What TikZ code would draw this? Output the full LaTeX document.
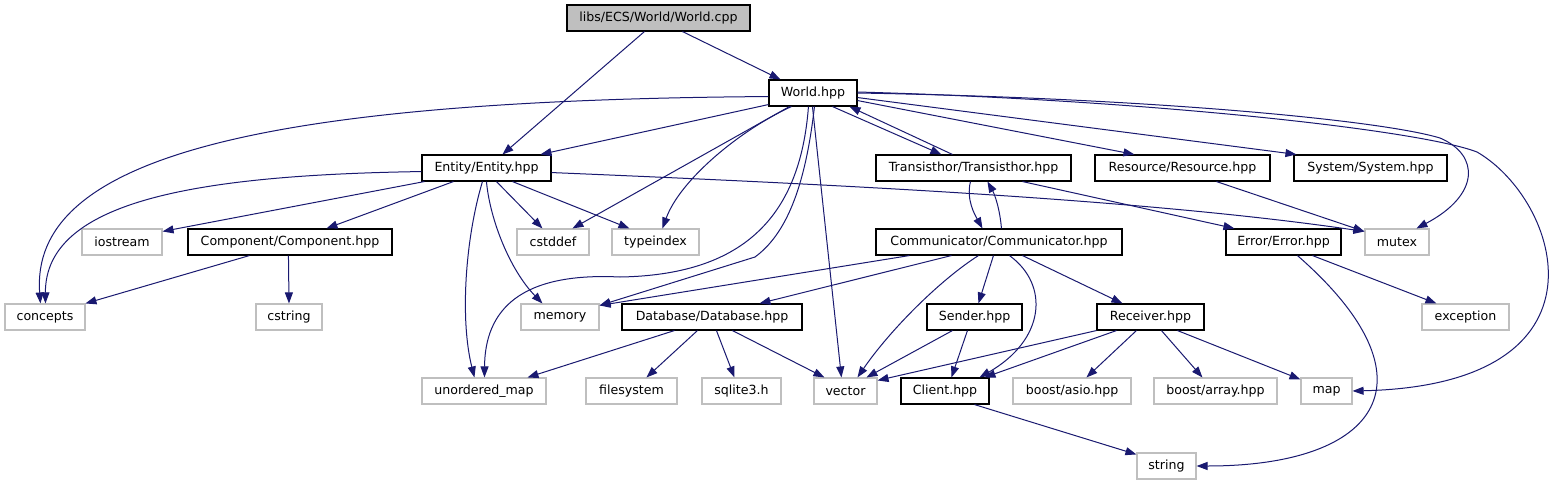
\documentclass[tikz,border=0pt]{standalone}
\usepackage{fontspec}
\setmainfont{DejaVu Sans}
\usetikzlibrary{arrows.meta}
\definecolor{edgec}{HTML}{191970}
\definecolor{sysc}{HTML}{BFBFBF}
\tikzset{
 base/.style={rectangle, minimum height=26pt, inner sep=0pt, line width=1.1pt, font=\fontsize{12.6}{14}\selectfont, text=black},
 filebox/.style={base, draw=black, fill=white},
 sysbox/.style={base, draw=sysc, fill=white},
 rootbox/.style={base, draw=black, fill=sysc},
 dep/.style={draw=edgec, line width=1pt, -{Triangle[length=11pt,width=8pt]}},
}
\begin{document}
\begin{tikzpicture}[x=1pt,y=-1pt]
\useasboundingbox[fill=white] (0,0) rectangle (1551,485);
\node[rootbox, minimum width=183pt] (cpp) at (658.5,18) {libs/ECS/World/World.cpp};
\node[filebox, minimum width=88pt] (world) at (813,93) {World.hpp};
\node[filebox, minimum width=129pt] (entity) at (486.5,168) {Entity/Entity.hpp};
\node[filebox, minimum width=195pt] (trans) at (973.5,168) {Transisthor/Transisthor.hpp};
\node[filebox, minimum width=175pt] (resource) at (1182.5,168) {Resource/Resource.hpp};
\node[filebox, minimum width=153pt] (system) at (1370.5,168) {System/System.hpp};
\node[sysbox, minimum width=80pt] (iostream) at (122,242) {iostream};
\node[filebox, minimum width=204pt] (component) at (290,242) {Component/Component.hpp};
\node[sysbox, minimum width=72pt] (cstddef) at (553,242) {cstddef};
\node[sysbox, minimum width=87pt] (typeindex) at (655.5,242) {typeindex};
\node[filebox, minimum width=246pt] (comm) at (999,242) {Communicator/Communicator.hpp};
\node[filebox, minimum width=115pt] (error) at (1283.5,242) {Error/Error.hpp};
\node[sysbox, minimum width=64pt] (mutex) at (1397,242) {mutex};
\node[sysbox, minimum width=80pt] (concepts) at (45,317) {concepts};
\node[sysbox, minimum width=66pt] (cstring) at (289,317) {cstring};
\node[sysbox, minimum width=78pt] (memory) at (560,317) {memory};
\node[filebox, minimum width=180pt] (database) at (712,317) {Database/Database.hpp};
\node[filebox, minimum width=95pt] (sender) at (974.5,317) {Sender.hpp};
\node[filebox, minimum width=107pt] (receiver) at (1150.5,317) {Receiver.hpp};
\node[sysbox, minimum width=87pt] (exception) at (1465.5,317) {exception};
\node[sysbox, minimum width=124pt] (umap) at (484,391) {unordered\_map};
\node[sysbox, minimum width=91pt] (filesystem) at (631.5,391) {filesystem};
\node[sysbox, minimum width=79pt] (sqlite) at (741.5,391) {sqlite3.h};
\node[sysbox, minimum width=63pt] (vector) at (845.5,391) {vector};
\node[filebox, minimum width=88pt] (client) at (945,391) {Client.hpp};
\node[sysbox, minimum width=118pt] (asio) at (1072,391) {boost/asio.hpp};
\node[sysbox, minimum width=123pt] (array) at (1215.5,391) {boost/array.hpp};
\node[sysbox, minimum width=51pt] (map) at (1326.5,391) {map};
\node[sysbox, minimum width=59pt] (string) at (1166.5,466) {string};
% World.cpp
\draw[dep] ([xshift=116pt]cpp.south west) -- ([xshift=12pt]world.north west);
\draw[dep] ([xshift=78pt]cpp.south west) -- ([xshift=81pt]entity.north west);
% World.hpp
\draw[dep] ([yshift=2pt]world.south west) -- ([xshift=119pt]entity.north west);
\draw[dep] ([yshift=10pt]world.south west) .. controls (250,100) and (30,160) .. ([xshift=36pt]concepts.north west);
\draw[dep] ([xshift=21pt]world.south west) -- ([xshift=56pt]cstddef.north west);
\draw[dep] ([xshift=23pt]world.south west) .. controls (740,130) and (680,180) .. ([xshift=51pt]typeindex.north west);
\draw[dep] ([xshift=40pt]world.south west) .. controls (800,220) and (740,275) .. (620,277) .. controls (520,272) and (485,310) .. ([xshift=63pt]umap.north west);
\draw[dep] ([xshift=46pt]world.south west) .. controls (805,190) and (785,235) .. (755,257) -- ([yshift=-2pt]memory.north east);
\draw[dep] ([xshift=44pt]world.south west) -- ([xshift=28pt]vector.north west);
\draw[dep] ([xshift=64pt]world.south west) -- ([xshift=66pt]trans.north west);
\draw[dep] ([yshift=6pt]world.south east) -- ([xshift=40pt]resource.north west);
\draw[dep] ([yshift=9pt]world.south east) -- ([xshift=3pt]system.north west);
\draw[dep] (world.east) .. controls (1150,98) and (1380,120) .. (1440,138) .. controls (1480,155) and (1480,195) .. ([xshift=52pt]mutex.north west);
\draw[dep] ([yshift=1pt]world.east) .. controls (1150,100) and (1420,130) .. (1477,152) .. controls (1560,200) and (1620,385) .. (map.east);
% Entity.hpp
\draw[dep] ([yshift=10pt]entity.south west) .. controls (200,175) and (45,200) .. ([xshift=41pt]concepts.north west);
\draw[dep] ([xshift=3pt]entity.south west) -- ([yshift=-3pt]iostream.north east);
\draw[dep] ([xshift=32pt]entity.south west) -- ([xshift=139pt]component.north west);
\draw[dep] ([xshift=61pt]entity.south west) .. controls (465,240) and (460,320) .. ([xshift=53pt]umap.north west);
\draw[dep] ([xshift=65pt]entity.south west) .. controls (490,220) and (510,270) .. ([xshift=22pt]memory.north west);
\draw[dep] ([xshift=75pt]entity.south west) -- ([xshift=26pt]cstddef.north west);
\draw[dep] ([xshift=91pt]entity.south west) -- ([xshift=18pt]typeindex.north west);
\draw[dep] ([yshift=9pt]entity.south east) .. controls (850,185) and (1150,200) .. ([yshift=-3pt]mutex.north west);
% Component
\draw[dep] ([xshift=62pt]component.south west) -- ([xshift=81pt]concepts.north west);
\draw[dep] ([xshift=101pt]component.south west) -- (cstring.north);
% Transisthor
\draw[dep] ([xshift=77pt]trans.north west) -- ([xshift=81pt]world.south west);
\draw[dep] ([xshift=95pt]trans.south west) .. controls (966,200) and (975,215) .. ([xshift=107pt]comm.north west);
\draw[dep] ([xshift=147pt]trans.south west) -- ([xshift=9pt]error.north west);
% Resource, Error
\draw[dep] ([xshift=122pt]resource.south west) -- ([yshift=-3pt]mutex.north west);
\draw[dep] ([xshift=87pt]error.south west) -- ([xshift=15pt]exception.north west);
\draw[dep] ([xshift=72pt]error.south west) .. controls (1440,380) and (1380,466) .. (string.east);
% Communicator
\draw[dep] ([xshift=126pt]comm.north west) .. controls (1000,210) and (995,195) .. ([xshift=112pt]trans.south west);
\draw[dep] ([xshift=34pt]comm.south west) -- ([yshift=-2pt]memory.north east);
\draw[dep] ([xshift=76pt]comm.south west) -- ([xshift=138pt]database.north west);
\draw[dep] ([xshift=103pt]comm.south west) .. controls (940,280) and (890,330) .. ([xshift=44pt]vector.north west);
\draw[dep] ([xshift=118pt]comm.south west) -- ([xshift=52pt]sender.north west);
\draw[dep] ([xshift=134pt]comm.south west) .. controls (1050,285) and (1045,340) .. ([xshift=79pt]client.north west);
\draw[dep] ([xshift=147pt]comm.south west) -- ([xshift=26pt]receiver.north west);
% Database
\draw[dep] ([xshift=53pt]database.south west) -- ([xshift=106pt]umap.north west);
\draw[dep] ([xshift=76pt]database.south west) -- ([xshift=61pt]filesystem.north west);
\draw[dep] ([xshift=95pt]database.south west) -- ([xshift=33pt]sqlite.north west);
\draw[dep] ([xshift=111pt]database.south west) -- ([xshift=11pt]vector.north west);
% Sender
\draw[dep] ([xshift=26pt]sender.south west) -- ([xshift=53pt]vector.north west);
\draw[dep] ([xshift=41pt]sender.south west) -- ([xshift=51pt]client.north west);
% Receiver
\draw[dep] (receiver.south west) -- ([yshift=-3pt]vector.north east);
\draw[dep] ([xshift=20pt]receiver.south west) -- ([xshift=84pt]client.north west);
\draw[dep] ([xshift=40pt]receiver.south west) -- ([xshift=74pt]asio.north west);
\draw[dep] ([xshift=65pt]receiver.south west) -- ([xshift=49pt]array.north west);
\draw[dep] ([xshift=81pt]receiver.south west) -- ([yshift=-2pt]map.north west);
% Client
\draw[dep] ([xshift=74pt]client.south west) -- ([yshift=-2pt]string.north west);
\end{tikzpicture}
\end{document}
